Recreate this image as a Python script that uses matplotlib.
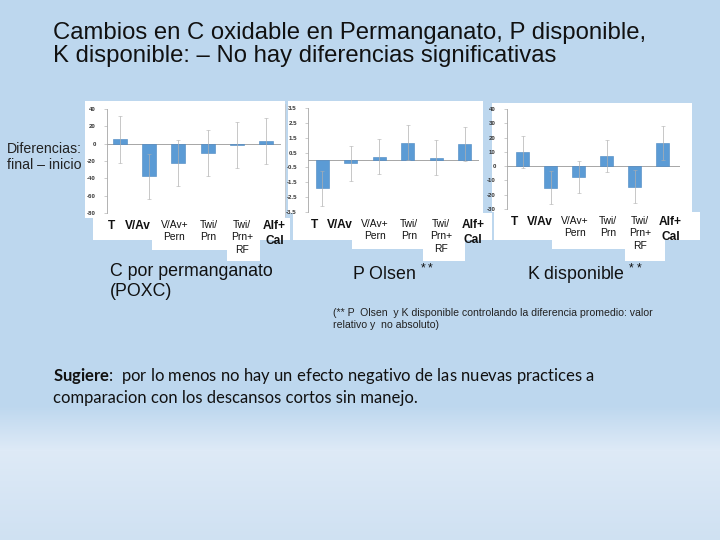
import numpy as np
import matplotlib
matplotlib.use('Agg')
import matplotlib.pyplot as plt
import matplotlib.transforms as mtransforms
from matplotlib.patches import Rectangle

plt.rcParams['mathtext.fontset'] = 'custom'
plt.rcParams['mathtext.rm'] = 'Liberation Sans'
plt.rcParams['mathtext.bf'] = 'Lato:bold'

# data (difference final - start)
cats = ['T', 'V/Av', 'V/Av+\nPern', 'Twi/\nPrn', 'Twi/\nPrn+\nRF', 'Alf+\nCal']
cat_bold = [True, True, False, False, False, True]

poxc_mean = [4.9, -37.8, -22.4, -10.7, -1.6, 2.7]
poxc_err = [26.8, 25.6, 26.4, 26.6, 26.6, 26.6]

polsen_mean = [-1.9, -0.22, 0.22, 1.17, 0.15, 1.07]
polsen_err = [1.17, 1.17, 1.17, 1.18, 1.17, 1.15]

kdisp_mean = [9.7, -15.0, -7.5, 6.9, -14.4, 16.0]
kdisp_err = [11.3, 11.5, 11.4, 11.3, 11.5, 11.9]

poxc_ticks = [40, 20, 0, -20, -40, -60, -80]
polsen_ticks = [3.5, 2.5, 1.5, 0.5, -0.5, -1.5, -2.5, -3.5]
kdisp_ticks = [40, 30, 20, 10, 0, -10, -20, -30]

W, H = 720, 540

def fr(x0, y0, x1, y1):
	# pixel box (top-left origin) -> figure fraction
	return [x0/W, 1-y1/H, (x1-x0)/W, (y1-y0)/H]

fig = plt.figure(figsize=(7.2, 5.4), dpi=100)

# slide background
bg = fig.add_axes([0, 0, 1, 1])
ys = np.arange(H)
stops_y = [0, 405, 450, 540]
stops_c = np.array([[189, 215, 238], [189, 215, 238], [222, 234, 247], [207, 225, 242]])/255.
col = np.stack([np.interp(ys, stops_y, stops_c[:, k]) for k in range(3)], axis=1)
bg.imshow(col[:, None, :], aspect='auto', extent=[0, W, H, 0])
bg.set_xlim(0, W)
bg.set_ylim(H, 0)
bg.axis('off')

def white_box(x0, y0, x1, y1):
	bg.add_patch(Rectangle((x0, y0), x1-x0, y1-y0, facecolor='white', edgecolor='none'))

# chart panels and label boxes
panels = [(85, 101, 285, 218), (288, 101, 483, 213), (492, 103, 692, 212)]
label_boxes = [
	[(93, 218, 290, 240), (152, 240, 227, 250), (227, 240, 260, 261)],
	[(293, 213, 492, 240), (352, 240, 423, 249), (423, 240, 465, 261)],
	[(494, 212, 700, 240), (552, 240, 625, 249), (625, 240, 665, 261)],
]
for p in panels:
	white_box(*p)
for boxes in label_boxes:
	for b in boxes:
		white_box(*b)
bg.plot([285, 285], [104, 216], color='#c8c8c8', lw=0.6)

axes_px = [(107, 109, 281, 213), (308, 108, 479, 212), (507, 109, 680, 209)]
xlims = [(-0.43, 5.5), (-0.5, 5.5), (-0.57, 5.62)]
series = [(poxc_mean, poxc_err, poxc_ticks), (polsen_mean, polsen_err, polsen_ticks),
	(kdisp_mean, kdisp_err, kdisp_ticks)]
lab_dx = [-8, -11, -4, 1, 5, 8]

for (box, xl, (m, e, tk)) in zip(axes_px, xlims, series):
	ax = fig.add_axes(fr(*box))
	ax.patch.set_alpha(0)
	x = np.arange(len(cats))
	ax.bar(x, m, width=0.47, color='#5b9bd5', edgecolor='#4a86c0', linewidth=0.4, zorder=2)
	ax.errorbar(x, m, yerr=e, fmt='none', ecolor='#b0b0b0', elinewidth=0.5, capsize=1.2,
		capthick=0.4, zorder=3)
	ax.axhline(0, color='#a6a6a6', lw=0.7, zorder=1)
	ax.set_xlim(*xl)
	ax.set_ylim(min(tk), max(tk))
	ax.set_yticks(tk)
	ax.set_yticklabels([('%g' % t) for t in tk], fontsize=4.4, color='#333333',
		fontweight='bold', family='Liberation Sans')
	ax.tick_params(axis='y', length=2, width=0.4, color='#a6a6a6', pad=6)
	ax.set_xticks([])
	for s in ['top', 'right', 'bottom']:
		ax.spines[s].set_visible(False)
	ax.spines['left'].set_color('#a6a6a6')
	ax.spines['left'].set_linewidth(0.6)
	# category labels
	for i, (c, b) in enumerate(zip(cats, cat_bold)):
		tr = mtransforms.offset_copy(ax.get_xaxis_transform(), fig=fig, x=lab_dx[i]*0.72,
			y=-7*0.72, units='points')
		ax.text(i, 0, c, transform=tr, ha='center', va='top', linespacing=1.3,
			fontsize=8.6 if b else 7.4, fontweight='bold' if b else 'normal',
			family='Liberation Sans', color='#111111')

# texts
fs = 'Liberation Sans'
fig.text(53/W, 1-22/H, 'Cambios en C oxidable en Permanganato, P disponible,\nK disponible: \u2013 No hay diferencias significativas',
	fontsize=17.2, family=fs, va='top', ha='left', linespacing=1.08, color='#111111')
fig.text(7/W, 1-142/H, 'Diferencias:\nfinal \u2013 inicio', fontsize=10.2, family=fs, va='top',
	ha='left', linespacing=1.15, color='#222222')
fig.text(110/W, 1-263/H, 'C por permanganato\n(POXC)', fontsize=12.8, family=fs, va='top',
	ha='left', linespacing=1.25, color='#111111')
fig.text(352/W, 1-264/H, 'P Olsen $^{**}$', fontsize=12.8, family=fs, va='top', ha='left',
	color='#111111')
fig.text(527/W, 1-262/H, 'K disponible $^{**}$', fontsize=12.8, family=fs, va='top', ha='left',
	color='#111111')
fig.text(333/W, 1-308/H, '(** P  Olsen  y K disponible controlando la diferencia promedio: valor\nrelativo y  no absoluto)',
	fontsize=7.6, family=fs, va='top', ha='left', linespacing=1.2, color='#222222')
fig.text(53/W, 1-366/H, r'$\bf{Sugiere}$:  por lo menos no hay un efecto negativo de las nuevas practices a' +
	'\ncomparacion con los descansos cortos sin manejo.', fontsize=12.0, family='Lato', va='top',
	ha='left', linespacing=1.3, color='#111111')

plt.savefig('out.png', dpi=100)
